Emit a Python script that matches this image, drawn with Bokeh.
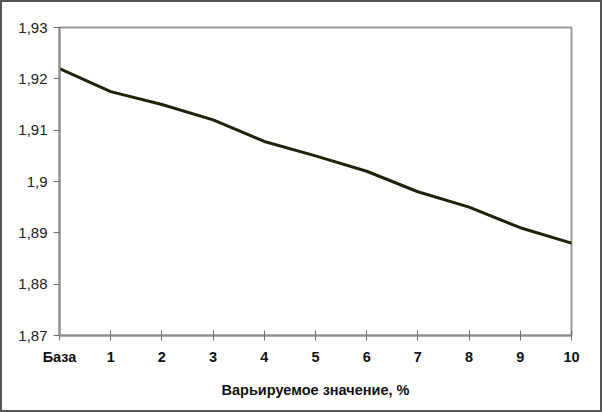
from bokeh.plotting import figure
from bokeh.models import FixedTicker, Range1d
from bokeh.embed import file_html
from bokeh.resources import INLINE

# Data
x_labels = ["База", "1", "2", "3", "4", "5", "6", "7", "8", "9", "10"]
x_values = [0, 1, 2, 3, 4, 5, 6, 7, 8, 9, 10]
y_values = [1.922, 1.9175, 1.915, 1.912, 1.9078, 1.905, 1.902, 1.898, 1.895, 1.891, 1.888]
y_ticks = [1.87, 1.88, 1.89, 1.90, 1.91, 1.92, 1.93]
y_tick_labels = ["1,87", "1,88", "1,89", "1,9", "1,91", "1,92", "1,93"]
x_title = "Варьируемое значение, %"

W, H = 602, 412
p = figure(width=W, height=H, output_backend="svg", toolbar_location=None,
           x_range=Range1d(0, 10), y_range=Range1d(1.87, 1.93),
           min_border_left=57, min_border_right=33, min_border_top=25, min_border_bottom=79)

p.line(x_values, y_values, line_color="#23210a", line_width=3, line_join="round", line_cap="round")

p.xgrid.visible = False
p.ygrid.visible = False
p.outline_line_color = "#9a9a9a"
p.outline_line_width = 2
p.border_fill_color = "white"
p.background_fill_color = "white"
p.styles = {"border": "2px solid #555555", "box-sizing": "border-box"}

# X axis
xa = p.xaxis[0]
xa.ticker = FixedTicker(ticks=x_values)
xa.major_label_overrides = {v: l for v, l in zip(x_values, x_labels)}
xa.major_label_text_font = "Liberation Sans"
xa.major_label_text_font_style = "bold"
xa.major_label_text_font_size = "14.5px"
xa.major_label_text_color = "#111111"
xa.major_label_standoff = 8
xa.major_tick_in = 5
xa.major_tick_out = 5
xa.major_tick_line_color = "#707070"
xa.minor_tick_line_color = None
xa.axis_line_color = "#909090"
xa.axis_line_width = 2
xa.axis_label = x_title
xa.axis_label_text_font = "Liberation Sans"
xa.axis_label_text_font_style = "bold"
xa.axis_label_text_font_size = "14.5px"
xa.axis_label_text_color = "#111111"
xa.axis_label_standoff = 14

# Y axis
ya = p.yaxis[0]
ya.ticker = FixedTicker(ticks=y_ticks)
ya.major_label_overrides = {v: l for v, l in zip(y_ticks, y_tick_labels)}
ya.major_label_text_font = "Liberation Sans"
ya.major_label_text_font_style = "normal"
ya.major_label_text_font_size = "15px"
ya.major_label_text_color = "#222222"
ya.major_label_standoff = 6
ya.major_tick_in = 0
ya.major_tick_out = 6
ya.major_tick_line_color = "#707070"
ya.minor_tick_line_color = None
ya.axis_line_color = "#909090"
ya.axis_line_width = 2

open("out.html", "w").write(file_html(p, INLINE))
